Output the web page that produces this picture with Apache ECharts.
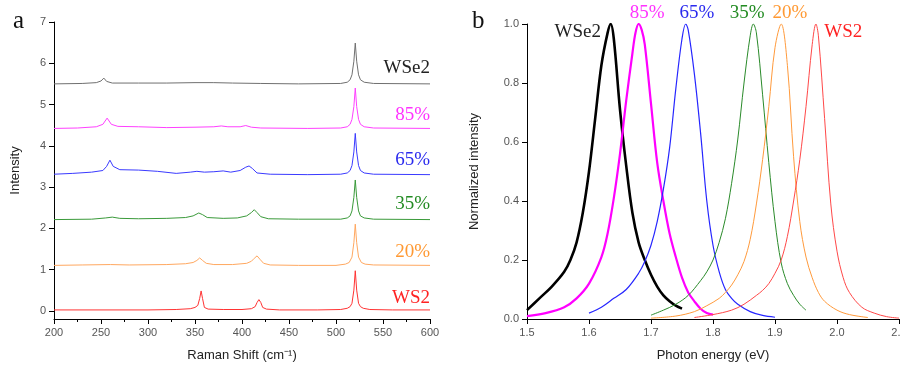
<!DOCTYPE html>
<html>
<head>
<meta charset="utf-8">
<script src="https://cdn.jsdelivr.net/npm/echarts@6/dist/echarts.min.js"></script>
<style>html,body{margin:0;padding:0;background:#fff}#c{width:900px;height:366px}</style>
</head>
<body>
<div id="c"></div>
<script>
// ---------- Panel a: Raman spectra (offset) ----------
var ramanNames = ['WS2', '20%', '35%', '65%', '85%', 'WSe2'];
var ramanWS2 = [[200,0.02],[250,0.02],[300,0.02],[330,0.03],[345,0.05],[350,0.08],[353,0.13],[355,0.3],[356.5,0.48],[358,0.3],[360,0.08],[364,0.04],[380,0.03],[400,0.03],[410,0.05],[414,0.1],[416,0.2],[418,0.27],[420,0.2],[422,0.08],[426,0.04],[440,0.02],[480,0.02],[505,0.03],[512,0.06],[515,0.1],[517,0.18],[519,0.5],[520.5,0.97],[522,0.5],[524,0.18],[526,0.1],[529,0.06],[536,0.03],[560,0.02],[600,0.02]];
var raman20 = [[200,1.1],[230,1.11],[260,1.12],[280,1.11],[320,1.12],[340,1.14],[348,1.17],[352,1.22],[355,1.28],[358,1.22],[362,1.15],[370,1.12],[390,1.12],[405,1.15],[410,1.2],[413,1.27],[416,1.33],[419,1.25],[423,1.15],[430,1.11],[460,1.1],[500,1.1],[510,1.13],[514,1.17],[517,1.3],[519,1.65],[520.5,2.1],[522,1.65],[524,1.3],[527,1.17],[531,1.13],[540,1.11],[600,1.1]];
var raman35 = [[200,2.21],[240,2.22],[255,2.25],[262,2.27],[270,2.24],[290,2.23],[320,2.24],[340,2.26],[348,2.3],[354,2.37],[358,2.33],[363,2.26],[380,2.24],[395,2.25],[405,2.3],[410,2.38],[413,2.45],[416,2.38],[420,2.28],[428,2.23],[460,2.22],[505,2.22],[512,2.25],[515,2.3],[517,2.42],[519,2.75],[520.5,3.17],[522,2.75],[524,2.42],[526,2.3],[530,2.25],[540,2.22],[600,2.21]];
var raman65 = [[200,3.31],[220,3.33],[240,3.36],[252,3.4],[256,3.5],[259.5,3.65],[263,3.5],[270,3.42],[290,3.41],[310,3.38],[330,3.33],[345,3.36],[352,3.38],[360,3.36],[370,3.37],[380,3.39],[388,3.36],[398,3.4],[404,3.48],[407.5,3.51],[411,3.45],[416,3.34],[430,3.31],[470,3.3],[505,3.31],[512,3.34],[515,3.4],[517,3.52],[519,3.85],[520.5,4.3],[522,3.85],[524,3.52],[526,3.4],[530,3.34],[540,3.31],[600,3.3]];
var raman85 = [[200,4.42],[225,4.43],[245,4.46],[252,4.52],[256.5,4.67],[261,4.52],[268,4.47],[290,4.46],[320,4.44],[350,4.45],[370,4.46],[378,4.48],[385,4.46],[398,4.46],[404,4.49],[410,4.45],[420,4.43],[470,4.42],[505,4.43],[512,4.46],[515,4.52],[517,4.64],[519,4.95],[520.5,5.4],[522,4.95],[524,4.64],[526,4.52],[530,4.46],[540,4.43],[600,4.42]];
var ramanWSe2 = [[200,5.5],[230,5.51],[245,5.53],[250,5.57],[253,5.64],[256,5.56],[262,5.52],[290,5.52],[320,5.52],[350,5.53],[370,5.53],[390,5.52],[420,5.51],[460,5.5],[505,5.51],[512,5.54],[515,5.6],[517,5.72],[519,6.05],[520.5,6.49],[522,6.05],[524,5.72],[526,5.6],[530,5.54],[540,5.51],[600,5.5]];
var ramanLabelY = [0.31, 1.43, 2.59, 3.66, 4.75, 5.88];
var ramanYTicks = [0, 1, 2, 3, 4, 5, 6, 7];

// ---------- Panel b: normalized PL spectra ----------
var plNames = ['WSe2', '85%', '65%', '35%', '20%', 'WS2'];
var plWSe2 = [[1.50,0.03],[1.52,0.07],[1.54,0.11],[1.56,0.16],[1.57,0.20],[1.58,0.26],[1.59,0.36],[1.60,0.50],[1.61,0.68],[1.62,0.86],[1.63,0.97],[1.635,1.0],[1.64,0.95],[1.65,0.71],[1.66,0.52],[1.67,0.36],[1.68,0.26],[1.69,0.2],[1.70,0.15],[1.71,0.11],[1.72,0.08],[1.73,0.06],[1.74,0.045],[1.75,0.035]];
var pl85 = [[1.50,0.01],[1.53,0.02],[1.56,0.04],[1.58,0.07],[1.60,0.12],[1.62,0.21],[1.63,0.29],[1.64,0.41],[1.65,0.56],[1.66,0.74],[1.67,0.90],[1.675,0.97],[1.68,1.0],[1.685,0.98],[1.69,0.93],[1.70,0.73],[1.71,0.53],[1.72,0.40],[1.73,0.29],[1.74,0.21],[1.75,0.14],[1.76,0.09],[1.77,0.06],[1.78,0.035],[1.79,0.02],[1.80,0.015]];
var pl65 = [[1.60,0.02],[1.62,0.04],[1.64,0.07],[1.66,0.10],[1.68,0.155],[1.69,0.195],[1.70,0.25],[1.71,0.33],[1.72,0.44],[1.73,0.58],[1.74,0.78],[1.75,0.95],[1.756,1.0],[1.76,0.98],[1.77,0.83],[1.78,0.63],[1.79,0.40],[1.80,0.25],[1.81,0.16],[1.82,0.10],[1.83,0.07],[1.84,0.05],[1.86,0.025],[1.88,0.012],[1.90,0.006]];
var pl35 = [[1.70,0.013],[1.72,0.03],[1.74,0.05],[1.76,0.08],[1.78,0.13],[1.79,0.16],[1.80,0.20],[1.81,0.26],[1.82,0.34],[1.83,0.46],[1.84,0.61],[1.85,0.80],[1.86,0.96],[1.865,1.0],[1.87,0.97],[1.88,0.76],[1.89,0.53],[1.90,0.33],[1.91,0.19],[1.92,0.12],[1.93,0.08],[1.94,0.05],[1.95,0.03]];
var pl20 = [[1.70,0.003],[1.74,0.01],[1.77,0.025],[1.79,0.045],[1.81,0.07],[1.82,0.09],[1.83,0.115],[1.84,0.15],[1.85,0.195],[1.86,0.27],[1.87,0.39],[1.88,0.54],[1.89,0.72],[1.90,0.92],[1.91,1.0],[1.92,0.86],[1.93,0.55],[1.94,0.33],[1.95,0.21],[1.96,0.14],[1.97,0.09],[1.98,0.06],[2.00,0.03],[2.02,0.015],[2.05,0.005]];
var plWS2 = [[1.77,0.005],[1.80,0.015],[1.83,0.03],[1.85,0.05],[1.87,0.08],[1.88,0.097],[1.89,0.12],[1.90,0.155],[1.91,0.20],[1.92,0.28],[1.93,0.40],[1.94,0.54],[1.95,0.72],[1.96,0.93],[1.966,1.0],[1.97,0.96],[1.98,0.68],[1.99,0.39],[2.00,0.23],[2.01,0.14],[2.02,0.09],[2.04,0.04],[2.06,0.02],[2.08,0.008],[2.10,0.003]];
var plLabelX = [1.582, 1.694, 1.774, 1.855, 1.924, 2.010];
var plLabelY = [0.973, 1.037, 1.037, 1.037, 1.037, 0.973];

// ---------- styles ----------
var ramanData = [ramanWS2, raman20, raman35, raman65, raman85, ramanWSe2];
var ramanColors = ['#ff3333', '#ffa860', '#3a9a3a', '#3a3aff', '#ff40ff', '#707070'];
var ramanTextColors = ['#ff2222', '#ff9933', '#228b22', '#2a2aee', '#ff33ff', '#222222'];
var plData = [plWSe2, pl85, pl65, pl35, pl20, plWS2];
var plColors = ['#000000', '#ff00ff', '#2626ff', '#2a8a2a', '#ff9a3c', '#ff4848'];
var plTextColors = ['#222222', '#ff33ff', '#2a2aee', '#228b22', '#ff9933', '#ff2222'];
var plWidths = [2.6, 2.2, 1.2, 1, 1, 1];

var labelFont = 'Liberation Serif';
var axisFont = 'Liberation Sans';
var tickLabel = {color: '#555', fontFamily: axisFont, fontSize: 11};

var series = [];
ramanData.forEach(function (d, i) {
  series.push({
    type: 'line', xAxisIndex: 0, yAxisIndex: 0, data: d, showSymbol: false,
    lineStyle: {color: ramanColors[i], width: 1}, itemStyle: {color: ramanColors[i]},
    silent: true, z: 2
  });
});
plData.forEach(function (d, i) {
  series.push({
    type: 'line', xAxisIndex: 1, yAxisIndex: 1, data: d, showSymbol: false,
    smooth: 0.35,
    lineStyle: {color: plColors[i], width: plWidths[i]}, itemStyle: {color: plColors[i]},
    silent: true, z: 2
  });
});

var chart = echarts.init(document.getElementById('c'), null, {renderer: 'canvas'});
chart.setOption({
  animation: false,
  backgroundColor: '#fff',
  title: [
    {text: 'a', left: 8, top: 4, textStyle: {fontFamily: labelFont, fontSize: 25, fontWeight: 'normal', color: '#111'}},
    {text: 'b', left: 467, top: 4, textStyle: {fontFamily: labelFont, fontSize: 25, fontWeight: 'normal', color: '#111'}}
  ],
  grid: [
    {left: 54, right: 470, top: 22, bottom: 47, outerBoundsMode: 'none', containLabel: false},
    {left: 527, right: 1, top: 24, bottom: 47, outerBoundsMode: 'none', containLabel: false}
  ],
  xAxis: [
    {type: 'value', gridIndex: 0, min: 200, max: 600, interval: 50,
      name: 'Raman Shift (cm\u207B\u00B9)', nameLocation: 'middle', nameGap: 30,
      nameTextStyle: {fontFamily: axisFont, fontSize: 13, color: '#222'},
      axisLine: {onZero: false, lineStyle: {color: '#000', width: 1}},
      axisTick: {length: 5, lineStyle: {color: '#000'}},
      minorTick: {show: true, splitNumber: 2, length: 3, lineStyle: {color: '#000'}},
      axisLabel: Object.assign({margin: 8}, tickLabel),
      splitLine: {show: false}},
    {type: 'value', gridIndex: 1, min: 1.5, max: 2.1, interval: 0.1,
      name: 'Photon energy (eV)', nameLocation: 'middle', nameGap: 30,
      nameTextStyle: {fontFamily: axisFont, fontSize: 13, color: '#222'},
      axisLine: {onZero: false, lineStyle: {color: '#000', width: 1}},
      axisTick: {length: 5, lineStyle: {color: '#000'}},
      axisLabel: Object.assign({margin: 8, showMaxLabel: true, formatter: function (v) { return v.toFixed(1); }}, tickLabel),
      splitLine: {show: false}}
  ],
  yAxis: [
    {type: 'value', gridIndex: 0, min: -0.2, max: 7,
      name: 'Intensity', nameLocation: 'middle', nameGap: 32,
      nameTextStyle: {fontFamily: axisFont, fontSize: 13, color: '#222'},
      axisLine: {show: true, onZero: false, lineStyle: {color: '#000', width: 1}},
      axisTick: {show: true, length: 5, customValues: ramanYTicks, lineStyle: {color: '#000'}},
      axisLabel: Object.assign({margin: 8, customValues: ramanYTicks}, tickLabel),
      splitLine: {show: false}},
    {type: 'value', gridIndex: 1, min: 0, max: 1, interval: 0.2,
      name: 'Normalized intensity', nameLocation: 'middle', nameGap: 46,
      nameTextStyle: {fontFamily: axisFont, fontSize: 13, color: '#222'},
      axisLine: {show: true, onZero: false, lineStyle: {color: '#000', width: 1}},
      axisTick: {show: true, length: 5, lineStyle: {color: '#000'}},
      axisLabel: Object.assign({margin: 8, formatter: function (v) { return v.toFixed(1); }}, tickLabel),
      splitLine: {show: false}}
  ],
  series: series
});

// Series name labels placed through the library's coordinate conversion
var texts = [];
ramanNames.forEach(function (n, i) {
  var p = chart.convertToPixel({gridIndex: 0}, [600, ramanLabelY[i]]);
  texts.push({type: 'text', x: p[0], y: p[1], silent: true, z: 10,
    style: {text: n, fill: ramanTextColors[i], font: '19px "' + labelFont + '"', align: 'right', verticalAlign: 'middle'}});
});
plNames.forEach(function (n, i) {
  var p = chart.convertToPixel({gridIndex: 1}, [plLabelX[i], plLabelY[i]]);
  texts.push({type: 'text', x: p[0], y: p[1], silent: true, z: 10,
    style: {text: n, fill: plTextColors[i], font: '19px "' + labelFont + '"', align: 'center', verticalAlign: 'middle'}});
});
chart.setOption({graphic: texts});
</script>
</body>
</html>
